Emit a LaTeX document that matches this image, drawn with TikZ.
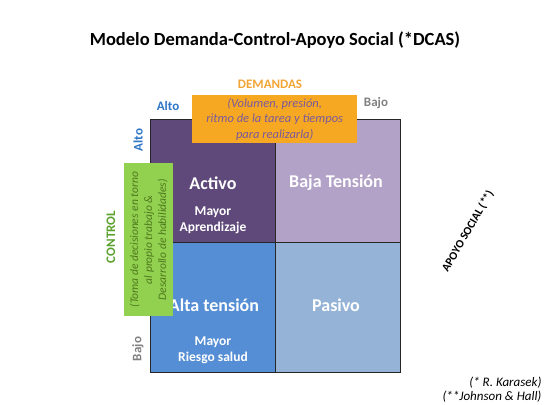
\documentclass[tikz,border=0pt]{standalone}
\usepackage{fontspec}
\setmainfont{Carlito}
\definecolor{cdark}{HTML}{5F497A}
\definecolor{clpur}{HTML}{B3A2C7}
\definecolor{cblue}{HTML}{558ED5}
\definecolor{clblue}{HTML}{95B3D7}
\definecolor{corange}{HTML}{F7A823}
\definecolor{cdem}{HTML}{F2A534}
\definecolor{cgreen}{HTML}{92D050}
\definecolor{cgtext}{HTML}{4F7A1E}
\definecolor{cctrl}{HTML}{5AA02C}
\definecolor{calto}{HTML}{2E75C6}
\definecolor{cbajo}{HTML}{808080}
\definecolor{cotext}{HTML}{7A5A9A}
\begin{document}
\begin{tikzpicture}[x=1pt,y=-1pt,
  cell/.style={draw=black!85,line width=0.8pt,minimum width=125pt,minimum height=123pt,inner sep=0pt,anchor=north west},
  big/.style={text=white,font=\bfseries\fontsize{18}{21}\selectfont},
  small/.style={text=white,font=\bfseries\fontsize{13.5}{16}\selectfont,align=center},
  axis/.style={font=\bfseries\fontsize{13}{15}\selectfont}]
\useasboundingbox (0,0) rectangle (550,405);
\node (title) at (275,40) {\bfseries\fontsize{18.5}{22}\selectfont Modelo Demanda-Control-Apoyo Social (*DCAS)};
% grid
\node[cell,fill=cdark] (tl) at (150,119) {};
\node[cell,fill=clpur] (tr) at (275,119) {};
\node[cell,fill=cblue,minimum height=130pt] (bl) at (150,242) {};
\node[cell,fill=clblue,minimum height=130pt] (br) at (275,242) {};
% cell texts
\node[big] (activo) at (213,183) {Activo};
\node[small] (ma) at (213,220) {Mayor\\Aprendizaje};
\node[big] (baja) at (336,183) {Baja Tensión};
\node[big] (alta) at (214,305) {Alta tensión};
\node[small] (mr) at (213,350) {Mayor\\Riesgo salud};
\node[big] (pasivo) at (336,305) {Pasivo};
% demandas
\node[axis,text=cdem] (dem) at (270,84) {DEMANDAS};
\node[axis,text=calto] (altoh) at (168,106) {Alto};
\node[axis,text=cbajo] (bajoh) at (376,103) {Bajo};
\node[fill=corange,minimum width=165pt,minimum height=48pt,inner sep=0pt,anchor=north west] (obox) at (192,95) {};
\node[text=cotext,align=center,font=\itshape\fontsize{12.5}{15.5}\selectfont] (otext) at (obox.center) {(Volumen, presión,\\ritmo de la tarea y tiempos\\para realizarla)};
% control
\node[axis,text=calto,rotate=90] (altov) at (138,140) {Alto};
\node[axis,text=cbajo,rotate=90] (bajov) at (138,349) {Bajo};
\node[axis,text=cctrl,rotate=90] (ctrl) at (111,237) {CONTROL};
\node[fill=cgreen,minimum width=49pt,minimum height=153pt,inner sep=0pt,anchor=north west] (gbox) at (124,163) {};
\node[text=cgtext,align=center,rotate=90,font=\itshape\fontsize{11.5}{14}\selectfont] (gtext) at (gbox.center) {(Toma de decisiones en torno\\al propio trabajo \&\\Desarrollo de habilidades)};
% apoyo social
\node[rotate=60,font=\bfseries\fontsize{11.5}{13}\selectfont] (apoyo) at (468,231) {APOYO SOCIAL (**)};
% footnotes
\node[anchor=east,font=\itshape\fontsize{13}{15}\selectfont] (f1) at (545,383) {(* R. Karasek)};
\node[anchor=east,font=\itshape\fontsize{13}{15}\selectfont] (f2) at (545,397) {(**Johnson \& Hall)};
\end{tikzpicture}
\end{document}
